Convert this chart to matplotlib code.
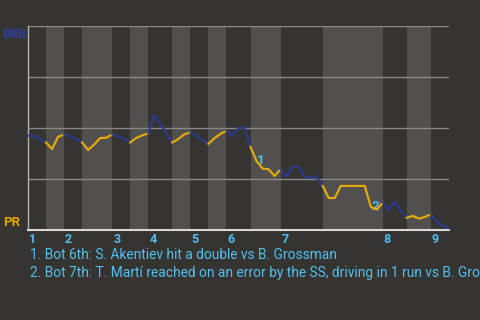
import matplotlib
matplotlib.use("Agg")
import matplotlib.pyplot as plt
from matplotlib.transforms import offset_copy

# BRB win probability (%) after each plate appearance, index 0 = first pitch
win_prob = [46.2, 46.2, 44.5, 42.9, 39.7, 45.7, 46.8, 45.9, 44.5, 42.9,
            39.2, 41.9, 45.1, 45.2, 46.9, 45.9, 44.5, 42.9, 45.1, 46.4,
            47.4, 56.4, 52.0, 47.5, 42.9, 44.6, 46.9, 47.9, 46.4, 44.1,
            42.2, 45.0, 47.1, 48.7, 46.1, 50.1, 50.1, 40.7, 33.8, 30.1,
            29.8, 26.5, 29.8, 26.1, 31.1, 31.0, 25.8, 25.8, 25.8, 21.6,
            15.7, 15.7, 21.6, 21.6, 21.6, 21.6, 21.6, 11.3, 10.1, 13.5,
            9.8, 13.9, 9.3, 6.0, 6.9, 5.6, 6.4, 7.7, 3.9, 2.1, 0.8]

# plate appearances in each half inning (top, bottom, top, ...)
half_pas = [3, 3, 3, 5, 3, 3, 4, 3, 3, 3, 4, 5, 7, 10, 4, 4, 3]
innings = ["1", "2", "3", "4", "5", "6", "7", "8", "9"]

# annotated plays: (index of PA, label)
notes_idx = [38, 57]
notes = ["1. Bot 6th: S. Akentiev hit a double vs B. Grossman",
         "2. Bot 7th: T. Martí reached on an error by the SS, driving in 1 run vs B. Grossman"]

BG = "#363430"
BAND = "#51504e"
BLUE = "#2b3a8e"
YELLOW = "#e3aa0c"
LABEL = "#52bff0"

plt.rcParams["font.family"] = ["Roboto", "DejaVu Sans"]

fig = plt.figure(figsize=(4.8, 3.2), dpi=100, facecolor=BG)
ax = fig.add_axes([28 / 480, 90 / 320, 421 / 480, 204 / 320])
ax.set_facecolor(BG)

starts = [0]
for n in half_pas:
    starts.append(starts[-1] + n)

# shade bottom halves
for k in range(1, len(half_pas), 2):
    ax.axvspan(starts[k], starts[k + 1], color=BAND, lw=0, zorder=0)

for yv in [25, 50, 75, 100]:
    ax.axhline(yv, color="#8a8987", lw=1, zorder=1)

# line, coloured by batting team
for k in range(len(half_pas)):
    a, b = starts[k], starts[k + 1]
    col = BLUE if k % 2 == 0 else YELLOW
    ax.plot(range(a, b + 1), win_prob[a:b + 1], color=col, lw=1.6,
            solid_joinstyle="round", zorder=3)

for n, i in enumerate(notes_idx):
    ax.annotate(str(n + 1), (i, win_prob[i]), xytext=(0.5, 0.5),
                textcoords="offset points", ha="left", va="center",
                color=LABEL, fontsize=9.5, fontweight="bold", zorder=2)

ax.set_xlim(0, starts[-1])
ax.set_ylim(0, 100)
ax.set_xticks([])
ax.set_yticks([])
for s in ["top", "right"]:
    ax.spines[s].set_visible(False)
ax.spines["left"].set_color("#b5b4b2")
ax.spines["left"].set_linewidth(1)
ax.spines["bottom"].set_color("#d8d8d8")
ax.spines["bottom"].set_linewidth(1.5)

trans = offset_copy(ax.transData, fig=fig, x=1, y=-3, units="dots")
for k, lab in enumerate(innings):
    ax.text(starts[2 * k], 0, lab, transform=trans, ha="left", va="top",
            color=LABEL, fontsize=9, fontweight="bold")

fig.text(2 / 480, 1 - 38.5 / 320, "BRB", color="#30409a", fontsize=9.2,
         fontweight="bold", va="baseline")
fig.text(3 / 480, 1 - 226 / 320, "PR", color="#e0a800", fontsize=9.5,
         fontweight="bold", va="baseline")

fig.text(30 / 480, 1 - 259 / 320, notes[0], color=LABEL, fontsize=9.9,
         va="baseline")
fig.text(30 / 480, 1 - 277 / 320, notes[1], color=LABEL, fontsize=9.9,
         va="baseline")

fig.savefig("out.png", dpi=100, facecolor=BG)
